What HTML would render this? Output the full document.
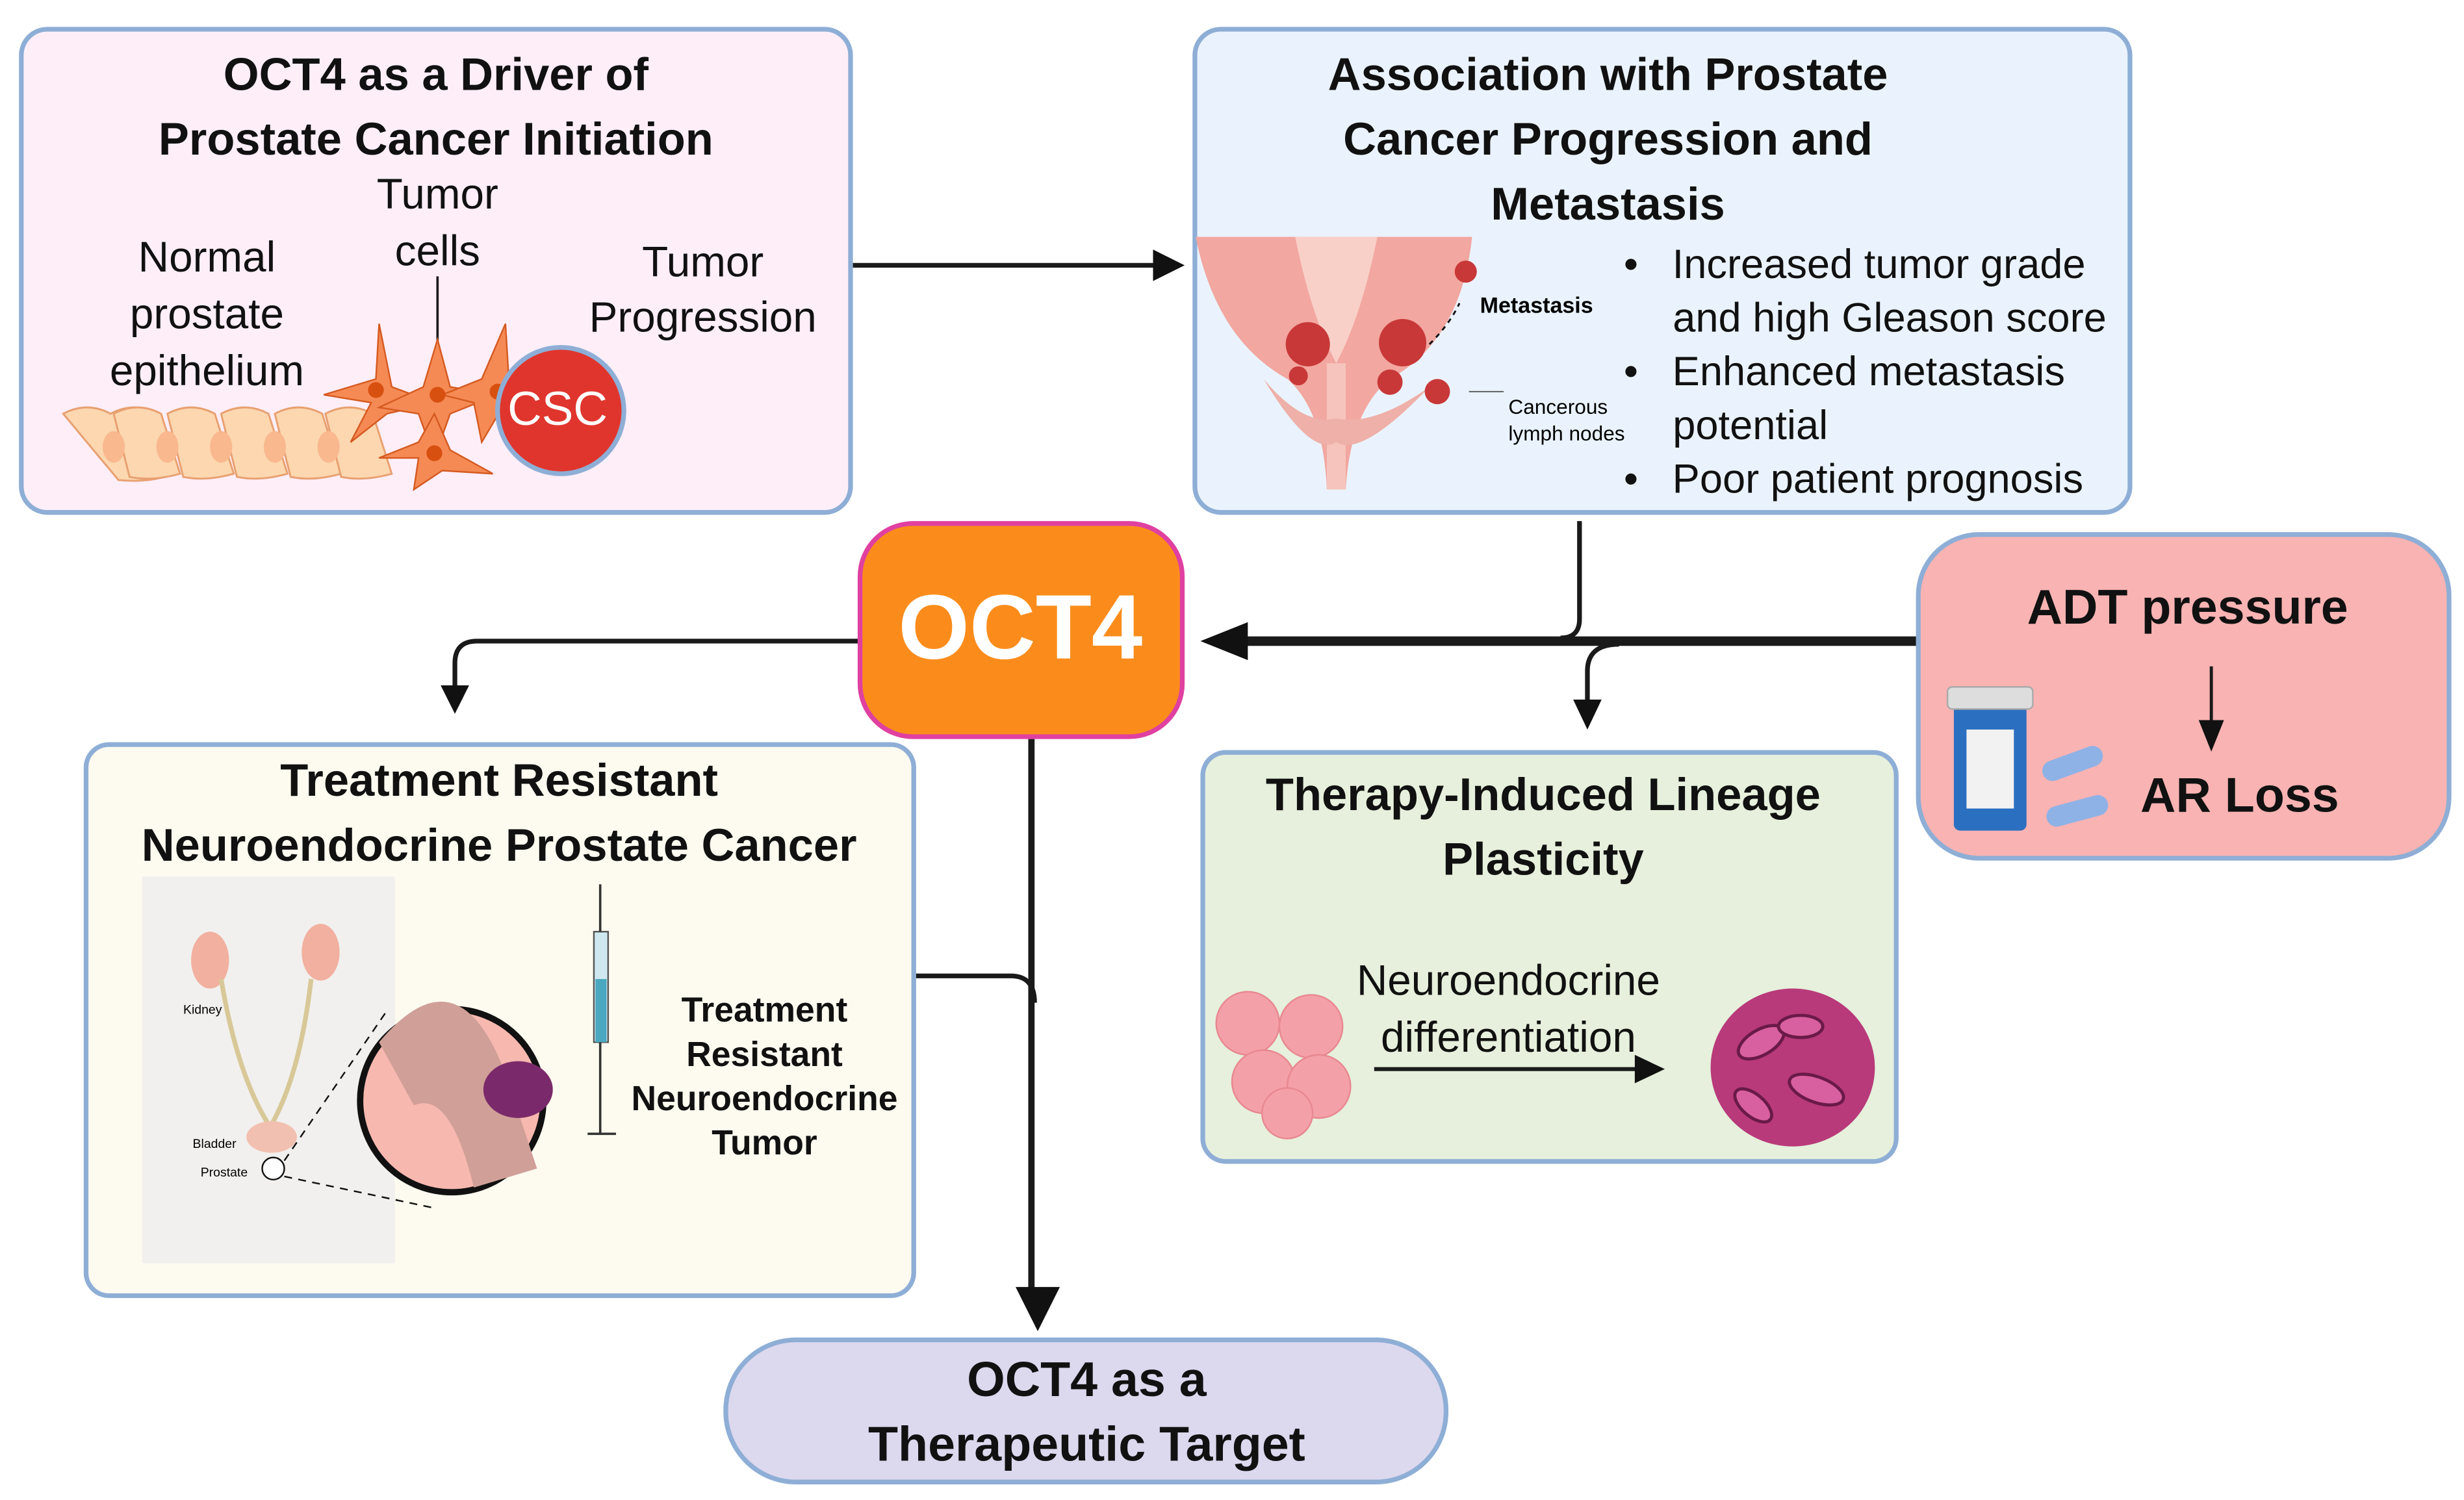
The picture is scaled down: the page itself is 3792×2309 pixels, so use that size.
<!DOCTYPE html>
<html><head><meta charset="utf-8"><style>
html,body{margin:0;padding:0;background:#fff;}
body{width:3792px;height:2309px;overflow:hidden;position:relative;font-family:"Liberation Sans",sans-serif;}
#s{position:absolute;left:0;top:0;width:1560px;height:950px;transform:scale(2.4308);transform-origin:0 0;}
.box{position:absolute;box-sizing:border-box;border:3px solid #8eaed6;}
.t{position:absolute;white-space:nowrap;text-align:center;transform:translateX(-50%);color:#111;}
.b{font-weight:bold;}
</style></head><body><div id="s">

<div class="box" style="left:12px;top:17px;width:528px;height:309px;background:#fdeef8;border-radius:18px;"></div>
<div class="box" style="left:755px;top:17px;width:595px;height:309px;background:#eaf3fd;border-radius:18px;"></div>
<div class="box" style="left:1213px;top:337px;width:339px;height:208px;background:#f9b3b3;border-radius:40px;"></div>
<div class="box" style="left:53px;top:470px;width:527px;height:352px;background:#fdfbf0;border-radius:16px;"></div>
<div class="box" style="left:760px;top:475px;width:442px;height:262px;background:#e6f0dc;border-radius:16px;"></div>
<div class="box" style="left:458px;top:847px;width:459px;height:93px;background:#dcd8ee;border-radius:46px;"></div>
<div class="box" style="left:543px;top:330px;width:207px;height:138px;background:#fb8c1c;border:3px solid #e040a0;border-radius:35px;"></div>

<svg width="1560" height="950" style="position:absolute;left:0;top:0" viewBox="0 0 1560 950">
<defs><marker id="a" markerWidth="8" markerHeight="8" refX="6" refY="4" orient="auto" markerUnits="userSpaceOnUse"><path d="M0,0 L8,4 L0,8z" fill="#111"/></marker></defs>
<g fill="none" stroke="#1a1a1a">
<path d="M540,168 H732" stroke-width="3"/>
<path d="M1213,406 H785" stroke-width="6"/>
<path d="M1000,330 V392 Q1000,404 988,404" stroke-width="3"/>
<path d="M1025,408 Q1005,408 1005,425 V445" stroke-width="3"/>
<path d="M543,406 H302 Q288,406 288,420 V436" stroke-width="3"/>
<path d="M653,468 V820" stroke-width="4"/>
<path d="M580,618 H640 Q655,618 655,635" stroke-width="3"/>
<path d="M1400,422 V460" stroke-width="2"/>
<path d="M870,677 H1038" stroke-width="2.5"/>
<path d="M277,175 V235" stroke-width="1.5"/>
</g>
<g fill="#111">
<path d="M730,158 L750,168 L730,178z"/>
<path d="M790,394 L760,406 L790,418z"/>
<path d="M996,443 L1005,462 L1014,443z"/>
<path d="M279,434 L288,452 L297,434z"/>
<path d="M643,815 L657,843 L671,815z"/>
<path d="M1392,456 L1400,476 L1408,456z"/>
<path d="M1035,668 L1054,677 L1035,686z"/>
</g>
<!-- epithelium cells -->
<g fill="#fcd7b0" stroke="#e8a070" stroke-width="1.2">
<path d="M40,262 q15,-8 30,0 q15,-8 30,0 l10,38 q-15,6 -35,4 z"/>
<path d="M72,262 q15,-8 30,0 l12,38 q-18,5 -32,2 z"/>
<path d="M106,262 q15,-8 30,0 l12,38 q-18,5 -32,2 z"/>
<path d="M140,262 q15,-8 30,0 l12,38 q-18,5 -32,2 z"/>
<path d="M174,262 q15,-8 30,0 l12,38 q-18,5 -32,2 z"/>
<path d="M206,262 q15,-8 30,0 l12,38 q-18,5 -32,2 z"/>
</g>
<g fill="#f9b88e"><ellipse cx="72" cy="283" rx="7" ry="10"/><ellipse cx="106" cy="283" rx="7" ry="10"/><ellipse cx="140" cy="283" rx="7" ry="10"/><ellipse cx="174" cy="283" rx="7" ry="10"/><ellipse cx="208" cy="283" rx="7" ry="10"/></g>
<g fill="#f58a55" stroke="#d55a20" stroke-width="1">
<path d="M240,205 L248,245 L275,255 L245,262 L222,280 L235,255 L205,250 L238,240z"/>
<path d="M277,215 L285,245 L315,250 L285,262 L275,290 L265,262 L240,258 L268,245z"/>
<path d="M320,205 L322,238 L345,250 L318,258 L305,280 L300,255 L280,250 L305,240z"/>
<path d="M275,262 L285,285 L312,300 L280,298 L262,310 L265,290 L240,290 L265,280z"/>
</g>
<g fill="#d85010"><circle cx="238" cy="247" r="5"/><circle cx="277" cy="250" r="5"/><circle cx="315" cy="248" r="5"/><circle cx="275" cy="287" r="5"/></g>
<circle cx="355" cy="260" r="40" fill="#e0352d" stroke="#8eaed6" stroke-width="3"/>
<!-- prostate illustration -->
<path d="M757,150 H932 Q925,215 880,240 Q855,260 852,310 H840 Q838,260 815,240 Q770,215 757,150z" fill="#f2a7a0"/>
<path d="M820,150 Q830,200 846,230 Q862,200 872,150z" fill="#f8d0c8"/>
<rect x="840" y="230" width="12" height="80" fill="#f6c4bc"/>
<path d="M800,240 Q830,290 846,280 Q862,290 905,245 Q870,270 846,265 Q825,270 800,240z" fill="#eeb0a8"/>
<g fill="#c83838"><circle cx="828" cy="218" r="14"/><circle cx="888" cy="217" r="15"/><circle cx="880" cy="242" r="8"/><circle cx="928" cy="172" r="7"/><circle cx="910" cy="248" r="8"/><circle cx="822" cy="238" r="6"/></g>
<path d="M905,218 Q918,205 924,192" stroke="#111" fill="none" stroke-dasharray="3,3" stroke-width="1.2"/>
<path d="M930,248 H952" stroke="#555" stroke-width="0.8"/>
<!-- pill bottle -->
<rect x="1237" y="446" width="46" height="80" rx="4" fill="#2b6fc0"/>
<rect x="1245" y="462" width="30" height="50" fill="#f2f2f2"/>
<rect x="1233" y="435" width="54" height="14" rx="3" fill="#ddd" stroke="#aaa"/>
<rect x="1292" y="477" width="40" height="13" rx="6.5" fill="#8fb2e6" transform="rotate(-20 1312 483)"/>
<rect x="1295" y="507" width="40" height="13" rx="6.5" fill="#8fb2e6" transform="rotate(-15 1315 513)"/>
<!-- neuroendocrine cells -->
<g fill="#f4a0a8" stroke="#e88890"><circle cx="790" cy="648" r="20"/><circle cx="830" cy="650" r="20"/><circle cx="800" cy="685" r="20"/><circle cx="835" cy="688" r="20"/><circle cx="815" cy="705" r="16"/></g>
<ellipse cx="1135" cy="676" rx="52" ry="50" fill="#b83a7a"/>
<g stroke="#6a1a48" stroke-width="2" fill="#d860a0"><ellipse cx="1115" cy="660" rx="16" ry="8" transform="rotate(-30 1115 660)"/><ellipse cx="1150" cy="690" rx="18" ry="8" transform="rotate(20 1150 690)"/><ellipse cx="1140" cy="650" rx="14" ry="7"/><ellipse cx="1110" cy="700" rx="14" ry="7" transform="rotate(40 1110 700)"/></g>
<!-- body illustration -->
<rect x="90" y="555" width="160" height="245" fill="#eeeeee" opacity="0.8"/>
<ellipse cx="133" cy="608" rx="12" ry="18" fill="#f2b0a0"/><ellipse cx="203" cy="603" rx="12" ry="18" fill="#f2b0a0"/>
<path d="M140,620 Q150,680 170,712 M197,620 Q190,680 172,712" stroke="#d8c898" stroke-width="3" fill="none"/>
<ellipse cx="172" cy="720" rx="16" ry="10" fill="#f2c0b0"/>
<circle cx="173" cy="740" r="7" fill="#fff" stroke="#111"/>
<path d="M180,735 L245,640 M180,745 L275,765" stroke="#111" stroke-dasharray="5,4"/>
<circle cx="286" cy="697" r="58" fill="#f7b8b0" stroke="#111" stroke-width="4"/>
<path d="M240,660 Q290,600 320,680 L340,740 L300,752 Q285,690 262,700z" fill="#d0a098"/>
<ellipse cx="328" cy="690" rx="22" ry="18" fill="#7a2a6a"/>
<rect x="376" y="590" width="9" height="70" fill="#cfe8f0" stroke="#555"/>
<rect x="377" y="620" width="7" height="40" fill="#4aa8c0"/>
<path d="M380,560 V590 M380,660 V718 M372,718 H390" stroke="#333" stroke-width="1.5"/>
</svg>

<div class="t b" style="left:276px;top:28px;font-size:29px;line-height:41px;">OCT4 as a Driver of<br>Prostate Cancer Initiation</div>
<div class="t" style="left:131px;top:145px;font-size:27px;line-height:36px;">Normal<br>prostate<br>epithelium</div>
<div class="t" style="left:277px;top:105px;font-size:27px;line-height:36px;">Tumor<br>cells</div>
<div class="t" style="left:445px;top:149px;font-size:27px;line-height:35px;">Tumor<br>Progression</div>
<div class="t" style="left:353px;top:243px;font-size:30px;color:#fff;">CSC</div>

<div class="t b" style="left:1018px;top:28px;font-size:29px;line-height:41px;">Association with Prostate<br>Cancer Progression and<br>Metastasis</div>
<div style="position:absolute;left:1028px;top:150px;font-size:26px;line-height:34px;color:#111;white-space:nowrap;">
<div>•&nbsp;&nbsp;&nbsp;Increased tumor grade</div><div style="padding-left:31px">and high Gleason score</div>
<div>•&nbsp;&nbsp;&nbsp;Enhanced metastasis</div><div style="padding-left:31px">potential</div>
<div>•&nbsp;&nbsp;&nbsp;Poor patient prognosis</div></div>
<div style="position:absolute;left:937px;top:185px;font-size:14px;font-weight:bold;">Metastasis</div>
<div style="position:absolute;left:955px;top:249px;font-size:13px;line-height:17px;">Cancerous<br>lymph nodes</div>

<div class="t b" style="left:646px;top:364px;font-size:58px;color:#fff;">OCT4</div>
<div class="t b" style="left:1385px;top:367px;font-size:31px;">ADT pressure</div>
<div class="t b" style="left:1418px;top:486px;font-size:31px;">AR Loss</div>

<div class="t b" style="left:316px;top:475px;font-size:29px;line-height:41px;">Treatment Resistant<br>Neuroendocrine Prostate Cancer</div>
<div class="t b" style="left:484px;top:626px;font-size:22px;line-height:28px;">Treatment<br>Resistant<br>Neuroendocrine<br>Tumor</div>
<div style="position:absolute;left:116px;top:635px;font-size:8px;">Kidney</div>
<div style="position:absolute;left:122px;top:720px;font-size:8px;">Bladder</div>
<div style="position:absolute;left:127px;top:738px;font-size:8px;">Prostate</div>

<div class="t b" style="left:977px;top:484px;font-size:29px;line-height:41px;">Therapy-Induced Lineage<br>Plasticity</div>
<div class="t" style="left:955px;top:603px;font-size:27px;line-height:36px;">Neuroendocrine<br>differentiation</div>

<div class="t b" style="left:688px;top:853px;font-size:31px;line-height:41px;">OCT4 as a<br>Therapeutic Target</div>
</div></body></html>
